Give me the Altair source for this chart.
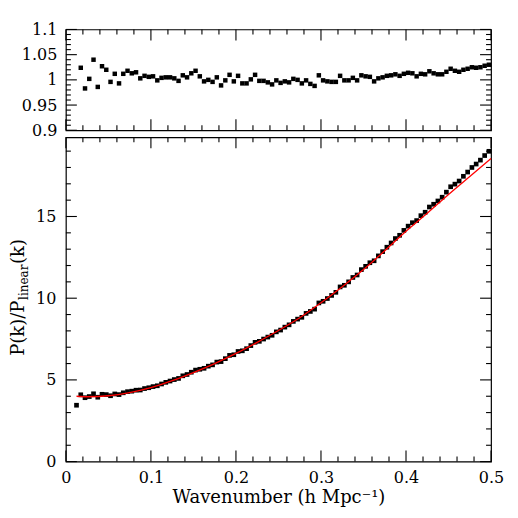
import altair as alt
import pandas as pd

# ---------------- data ----------------
K = [0.0125, 0.0175, 0.0225, 0.0275, 0.0325, 0.0375, 0.0425, 0.0475, 0.0525, 0.0575,
     0.0625, 0.0675, 0.0725, 0.0775, 0.0825, 0.0875, 0.0925, 0.0975, 0.1025, 0.1075,
     0.1125, 0.1175, 0.1225, 0.1275, 0.1325, 0.1375, 0.1425, 0.1475, 0.1525, 0.1575,
     0.1625, 0.1675, 0.1725, 0.1775, 0.1825, 0.1875, 0.1925, 0.1975, 0.2025, 0.2075,
     0.2125, 0.2175, 0.2225, 0.2275, 0.2325, 0.2375, 0.2425, 0.2475, 0.2525, 0.2575,
     0.2625, 0.2675, 0.2725, 0.2775, 0.2825, 0.2875, 0.2925, 0.2975, 0.3025, 0.3075,
     0.3125, 0.3175, 0.3225, 0.3275, 0.3325, 0.3375, 0.3425, 0.3475, 0.3525, 0.3575,
     0.3625, 0.3675, 0.3725, 0.3775, 0.3825, 0.3875, 0.3925, 0.3975, 0.4025, 0.4075,
     0.4125, 0.4175, 0.4225, 0.4275, 0.4325, 0.4375, 0.4425, 0.4475, 0.4525, 0.4575,
     0.4625, 0.4675, 0.4725, 0.4775, 0.4825, 0.4875, 0.4925, 0.4975]

# P(k)/P_linear(k) measured points (bottom panel)
P_RATIO = [3.45, 4.09, 3.91, 3.98, 4.15, 3.94, 4.12, 4.10, 4.03, 4.14,
           4.10, 4.21, 4.28, 4.31, 4.37, 4.38, 4.47, 4.52, 4.59, 4.64,
           4.75, 4.85, 4.93, 5.02, 5.09, 5.25, 5.33, 5.47, 5.60, 5.65,
           5.71, 5.84, 5.92, 6.09, 6.12, 6.30, 6.50, 6.54, 6.74, 6.78,
           6.91, 7.10, 7.30, 7.36, 7.50, 7.62, 7.73, 7.94, 8.05, 8.23,
           8.37, 8.58, 8.72, 8.83, 9.07, 9.19, 9.33, 9.71, 9.81, 9.98,
           10.17, 10.36, 10.69, 10.79, 11.00, 11.27, 11.42, 11.75, 11.95, 12.17,
           12.29, 12.59, 12.85, 13.12, 13.38, 13.65, 13.85, 14.15, 14.41, 14.62,
           14.75, 15.05, 15.26, 15.58, 15.75, 15.95, 16.18, 16.49, 16.82, 16.98,
           17.17, 17.46, 17.72, 18.00, 18.21, 18.45, 18.73, 18.99]

# top panel: data / fit (first bin is off the plotted range)
K_TOP = K[1:]
FIT_RATIO = [1.024, 0.983, 1.002, 1.040, 0.986, 1.027, 1.020, 0.996, 1.012, 0.993,
             1.012, 1.018, 1.013, 1.015, 1.003, 1.008, 1.006, 1.007, 0.999, 1.004,
             1.005, 1.005, 1.003, 0.998, 1.009, 1.005, 1.013, 1.018, 1.007, 0.997,
             1.000, 0.996, 1.005, 0.989, 0.999, 1.010, 0.997, 1.008, 0.993, 0.993,
             1.001, 1.010, 0.998, 0.998, 0.995, 0.991, 0.999,
             0.994, 0.997, 0.995, 1.002, 1.000, 0.993, 0.999, 0.992, 0.988, 1.009,
             0.999, 0.997, 0.996, 0.996, 1.008, 0.999, 0.999, 1.004, 0.999, 1.009,
             1.007, 1.006, 0.997, 1.003, 1.005,
             1.008, 1.009, 1.011, 1.008, 1.012, 1.014, 1.013, 1.007, 1.012, 1.011,
             1.017, 1.013, 1.011, 1.011, 1.016, 1.022, 1.018, 1.016, 1.020, 1.022,
             1.025, 1.024, 1.025, 1.028, 1.030]

# red fit curve
LINE_K = [0.0125, 0.025, 0.05, 0.075, 0.1, 0.125, 0.15, 0.175, 0.2, 0.225, 0.25,
          0.275, 0.3, 0.325, 0.35, 0.375, 0.4, 0.425, 0.45, 0.475, 0.5]
LINE_P = [4.00, 3.97, 4.03, 4.22, 4.52, 4.95, 5.45, 6.00, 6.62, 7.30, 8.02,
          8.80, 9.72, 10.70, 11.75, 12.90, 14.10, 15.20, 16.35, 17.45, 18.55]

# axis ticks
X_MAJOR = [0, 0.1, 0.2, 0.3, 0.4, 0.5]
X_MINOR = [0.02, 0.04, 0.06, 0.08, 0.12, 0.14, 0.16, 0.18, 0.22, 0.24,
           0.26, 0.28, 0.32, 0.34, 0.36, 0.38, 0.42, 0.44, 0.46, 0.48]
YT_MAJOR = [0.9, 0.95, 1.0, 1.05, 1.1]
YT_MINOR = [0.91, 0.92, 0.93, 0.94, 0.96, 0.97, 0.98, 0.99, 1.01,
            1.02, 1.03, 1.04, 1.06, 1.07, 1.08, 1.09]
YB_MAJOR = [0, 5, 10, 15]
YB_MINOR = [1, 2, 3, 4, 6, 7, 8, 9, 11, 12, 13, 14, 16, 17, 18, 19]

X_TITLE = "Wavenumber (h Mpc\u207b\u00b9)"
YT_PARTS = ["P(k)/P", "linear", "(k)"]

# ---------------- styling ----------------
W = 426
H_TOP = 101
H_BOT = 325
FONT = "DejaVu Serif"
MAJ = 11    # tick length, px
MIN = 5
XDOM = [0, 0.5]
YT_DOM = [0.9, 1.1]
YB_DOM = [0, 19.85]
# inward tick glyphs (symbol paths are scaled by sqrt(size)/2)
UP, DOWN, RIGHT, LEFT = "M0,0L0,-2", "M0,0L0,2", "M0,0L2,0", "M0,0L-2,0"

top_df = pd.DataFrame({"k": K_TOP, "r": FIT_RATIO})
bot_df = pd.DataFrame({"k": K, "p": P_RATIO})
line_df = pd.DataFrame({"k": LINE_K, "p": LINE_P})

AX_X_TOP = alt.Axis(orient="bottom", values=X_MAJOR, labels=False, tickSize=0,
                    tickOpacity=0, domainOpacity=0, grid=False, title=None)
AX_X_BOT = alt.Axis(orient="bottom", values=X_MAJOR, format="~g", tickSize=0,
                    tickOpacity=0, domainOpacity=0, grid=False, labelFont=FONT,
                    labelFontSize=16, labelPadding=8, labelFlush=False,
                    labelOverlap=False, labelColor="black", title=X_TITLE,
                    titleFont=FONT, titleFontSize=18, titleFontWeight="normal",
                    titlePadding=3, titleColor="black")
AX_Y_TOP = alt.Axis(orient="left", values=YT_MAJOR, format="~g", tickSize=0,
                    tickOpacity=0, domainOpacity=0, grid=False, title=None,
                    labelFont=FONT, labelFontSize=16, labelPadding=9,
                    labelColor="black")
AX_Y_BOT = alt.Axis(orient="left", values=YB_MAJOR, format="~g", tickSize=0,
                    tickOpacity=0, domainOpacity=0, grid=False, title=None,
                    labelFont=FONT, labelFontSize=16, labelPadding=10,
                    labelColor="black")


def xsc():
    return alt.Scale(domain=XDOM, nice=False, zero=False)


def ysc(dom):
    return alt.Scale(domain=dom, nice=False, zero=False)


def tick_table(ydom, ymaj, ymin):
    rows = []
    for vals, ln in ((X_MAJOR, MAJ), (X_MINOR, MIN)):
        for v in vals:
            rows.append({"x": v, "y": ydom[0], "s": UP, "z": ln * ln})
            rows.append({"x": v, "y": ydom[1], "s": DOWN, "z": ln * ln})
    for vals, ln in ((ymaj, MAJ), (ymin, MIN)):
        for v in vals:
            rows.append({"x": XDOM[0], "y": v, "s": RIGHT, "z": ln * ln})
            rows.append({"x": XDOM[1], "y": v, "s": LEFT, "z": ln * ln})
    return pd.DataFrame(rows)


def ticks(ydom, ymaj, ymin, xax, yax):
    return alt.Chart(tick_table(ydom, ymaj, ymin)).mark_point(
        filled=False, color="black", strokeWidth=1.1, opacity=1).encode(
        x=alt.X("x:Q", scale=xsc(), axis=xax),
        y=alt.Y("y:Q", scale=ysc(ydom), axis=yax),
        shape=alt.Shape("s:N", scale=None),
        size=alt.Size("z:Q", scale=None))


# ---------------- top panel ----------------
top_pts = alt.Chart(top_df).mark_square(size=20, color="black", opacity=1).encode(
    x=alt.X("k:Q", scale=xsc(), axis=AX_X_TOP),
    y=alt.Y("r:Q", scale=ysc(YT_DOM), axis=AX_Y_TOP))
top = alt.layer(top_pts, ticks(YT_DOM, YT_MAJOR, YT_MINOR, AX_X_TOP, AX_Y_TOP)
                ).properties(width=W, height=H_TOP)

# ---------------- bottom panel ----------------
bot_pts = alt.Chart(bot_df).mark_square(size=22, color="black", opacity=1).encode(
    x=alt.X("k:Q", scale=xsc(), axis=AX_X_BOT),
    y=alt.Y("p:Q", scale=ysc(YB_DOM), axis=AX_Y_BOT))
bot_line = alt.Chart(line_df).mark_line(color="#ff0000", strokeWidth=1.3,
                                        interpolate="monotone").encode(
    x=alt.X("k:Q", scale=xsc(), axis=AX_X_BOT),
    y=alt.Y("p:Q", scale=ysc(YB_DOM), axis=AX_Y_BOT))

one = alt.Data(values=[{"a": 1}])
ytitle = [
    alt.Chart(one).mark_text(text=YT_PARTS[0], angle=270, align="left",
                             baseline="alphabetic", font=FONT, fontSize=18,
                             color="black").encode(x=alt.value(-42), y=alt.value(219)),
    alt.Chart(one).mark_text(text=YT_PARTS[1], angle=270, align="left",
                             baseline="alphabetic", font=FONT, fontSize=12,
                             color="black").encode(x=alt.value(-38), y=alt.value(163)),
    alt.Chart(one).mark_text(text=YT_PARTS[2], angle=270, align="left",
                             baseline="alphabetic", font=FONT, fontSize=18,
                             color="black").encode(x=alt.value(-42), y=alt.value(127)),
]

bottom = alt.layer(bot_pts, bot_line,
                   ticks(YB_DOM, YB_MAJOR, YB_MINOR, AX_X_BOT, AX_Y_BOT),
                   *ytitle).properties(width=W, height=H_BOT)

chart = alt.vconcat(top, bottom, spacing=7, bounds="flush").properties(
    padding={"left": 1, "top": 12, "right": 5, "bottom": 5}
).configure_view(stroke="black", strokeWidth=1.2)

chart.save("out.html", embed_options={"renderer": "svg", "actions": False})
